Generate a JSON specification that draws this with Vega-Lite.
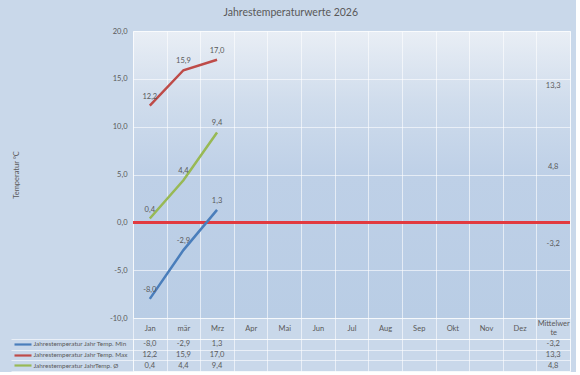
{
  "$schema": "https://vega.github.io/schema/vega-lite/v6.json",
  "background": "#c9d8ea",
  "padding": {"left": 10, "top": 8, "right": 4, "bottom": 0},
  "title": {"text": "Jahrestemperaturwerte 2026", "fontSize": 10.5, "fontWeight": "normal", "color": "#595959", "font": "Lato", "anchor": "middle", "frame": "bounds", "offset": 8},
  "spacing": 21,
  "bounds": "flush",
  "datasets": {
    "temps": [
      {"m": "Jan", "s": "Jahrestemperatur Jahr Temp. Min", "v": -8.0},
      {"m": "mär", "s": "Jahrestemperatur Jahr Temp. Min", "v": -2.9},
      {"m": "Mrz", "s": "Jahrestemperatur Jahr Temp. Min", "v": 1.3},
      {"m": "Mittelwerte", "s": "Jahrestemperatur Jahr Temp. Min", "v": -3.2},
      {"m": "Jan", "s": "Jahrestemperatur Jahr Temp. Max", "v": 12.2},
      {"m": "mär", "s": "Jahrestemperatur Jahr Temp. Max", "v": 15.9},
      {"m": "Mrz", "s": "Jahrestemperatur Jahr Temp. Max", "v": 17.0},
      {"m": "Mittelwerte", "s": "Jahrestemperatur Jahr Temp. Max", "v": 13.3},
      {"m": "Jan", "s": "Jahrestemperatur JahrTemp. Ø", "v": 0.4},
      {"m": "mär", "s": "Jahrestemperatur JahrTemp. Ø", "v": 4.4},
      {"m": "Mrz", "s": "Jahrestemperatur JahrTemp. Ø", "v": 9.4},
      {"m": "Mittelwerte", "s": "Jahrestemperatur JahrTemp. Ø", "v": 4.8}
    ]
  },
  "vconcat": [
    {
      "width": 437,
      "height": 287,
      "data": {"name": "temps"},
      "view": {
        "fill": {"gradient": "linear", "x1": 0, "y1": 0, "x2": 0, "y2": 1, "stops": [
          {"offset": 0, "color": "#e9eef5"},
          {"offset": 0.25, "color": "#cfdcec"},
          {"offset": 0.5, "color": "#bed0e7"},
          {"offset": 1, "color": "#b9cde5"}
        ]},
        "stroke": "#ffffff",
        "strokeOpacity": 0.6
      },
      "layer": [
        {
          "mark": {"type": "rule", "color": "#e23a3f", "strokeWidth": 2},
          "encoding": {"y": {"datum": 0, "type": "quantitative"}}
        },
        {
          "transform": [{"filter": "datum.m != 'Mittelwerte'"}],
          "mark": {"type": "line", "strokeWidth": 2.5},
          "encoding": {
            "x": {"field": "m", "type": "nominal", "sort": null,
              "scale": {"type": "band", "domain": ["Jan", "mär", "Mrz", "Apr", "Mai", "Jun", "Jul", "Aug", "Sep", "Okt", "Nov", "Dez", "Mittelwerte"], "paddingInner": 0, "paddingOuter": 0},
              "axis": {"orient": "bottom", "title": null, "labelAngle": 0, "tickBand": "extent", "grid": true, "gridColor": "#ffffff", "gridOpacity": 0.6, "ticks": true, "tickSize": 21, "tickColor": "#ffffff", "tickOpacity": 0.6, "domain": false,
                "labelPadding": {"condition": {"test": "datum.value == 'Mittelwerte'", "value": -16}, "value": -11},
                "labelBaseline": "middle", "labelFontSize": 7.5, "labelColor": "#595959", "labelLineHeight": 9.5,
                "labelExpr": "datum.value == 'Mittelwerte' ? ['Mittelwer', 'te'] : datum.value"}
            },
            "y": {"field": "v", "type": "quantitative",
              "scale": {"domain": [-10, 20], "nice": false, "zero": false},
              "axis": {"values": [-10, -5, 0, 5, 10, 15, 20], "format": ".1f", "title": "Temperatur °C", "titleFontSize": 7.5, "titleFontWeight": "normal", "titleColor": "#595959", "titlePadding": 89, "grid": true, "gridColor": "#ffffff", "gridOpacity": 0.6, "domain": false, "ticks": false, "labelPadding": 6, "labelFontSize": 7.5, "labelColor": "#595959"}
            },
            "color": {"field": "s", "type": "nominal", "legend": null,
              "scale": {"domain": ["Jahrestemperatur Jahr Temp. Min", "Jahrestemperatur Jahr Temp. Max", "Jahrestemperatur JahrTemp. Ø"], "range": ["#4a7ebb", "#be4b48", "#98b954"]}}
          }
        },
        {
          "mark": {"type": "text", "dy": -9, "fontSize": 7.5, "color": "#595959"},
          "encoding": {
            "x": {"field": "m", "type": "nominal"},
            "y": {"field": "v", "type": "quantitative"},
            "text": {"field": "v", "type": "quantitative", "format": ".1f"}
          }
        }
      ]
    },
    {
      "width": 437,
      "height": 32,
      "data": {"name": "temps"},
      "view": {"stroke": "#ffffff", "strokeOpacity": 0.6},
      "layer": [
        {
          "mark": {"type": "text", "fontSize": 7.5, "color": "#595959"},
          "encoding": {
            "x": {"field": "m", "type": "nominal", "sort": null,
              "scale": {"type": "band", "domain": ["Jan", "mär", "Mrz", "Apr", "Mai", "Jun", "Jul", "Aug", "Sep", "Okt", "Nov", "Dez", "Mittelwerte"], "paddingInner": 0, "paddingOuter": 0},
              "axis": {"title": null, "labels": false, "ticks": false, "domain": false, "grid": true, "tickBand": "extent", "gridColor": "#ffffff", "gridOpacity": 0.6}
            },
            "y": {"field": "s", "type": "nominal", "sort": null,
              "scale": {"type": "band", "domain": ["Jahrestemperatur Jahr Temp. Min", "Jahrestemperatur Jahr Temp. Max", "Jahrestemperatur JahrTemp. Ø"], "paddingInner": 0, "paddingOuter": 0},
              "axis": {"orient": "left", "title": null, "labels": false, "domain": false, "grid": true, "tickBand": "extent", "gridColor": "#ffffff", "gridOpacity": 0.6, "ticks": true, "tickSize": 122, "tickColor": "#ffffff", "tickOpacity": 0.6}
            },
            "text": {"field": "v", "type": "quantitative", "format": ".1f"}
          }
        },
        {
          "mark": {"type": "text", "opacity": 0},
          "encoding": {
            "y": {"field": "s", "type": "nominal", "sort": null,
              "axis": {"orient": "left", "offset": 102, "title": null, "domain": false, "grid": false, "ticks": true, "tickSize": 17, "tickWidth": 2.2, "tickOpacity": 1, "labelAlign": "left", "labelPadding": -19, "labelFontSize": 6.4, "labelColor": "#595959", "labelLimit": 200,
                "tickColor": {"condition": [
                  {"test": "datum.value == 'Jahrestemperatur Jahr Temp. Min'", "value": "#4a7ebb"},
                  {"test": "datum.value == 'Jahrestemperatur Jahr Temp. Max'", "value": "#be4b48"}
                ], "value": "#98b954"}}
            },
            "text": {"value": ""}
          }
        }
      ],
      "resolve": {"axis": {"y": "independent"}}
    }
  ],
  "config": {
    "locale": {"number": {"decimal": ",", "thousands": ".", "grouping": [3], "currency": ["", " €"], "minus": "-"}},
    "font": "Lato",
    "axis": {"labelFont": "Lato", "titleFont": "Lato"},
    "text": {"font": "Lato"}
  }
}
